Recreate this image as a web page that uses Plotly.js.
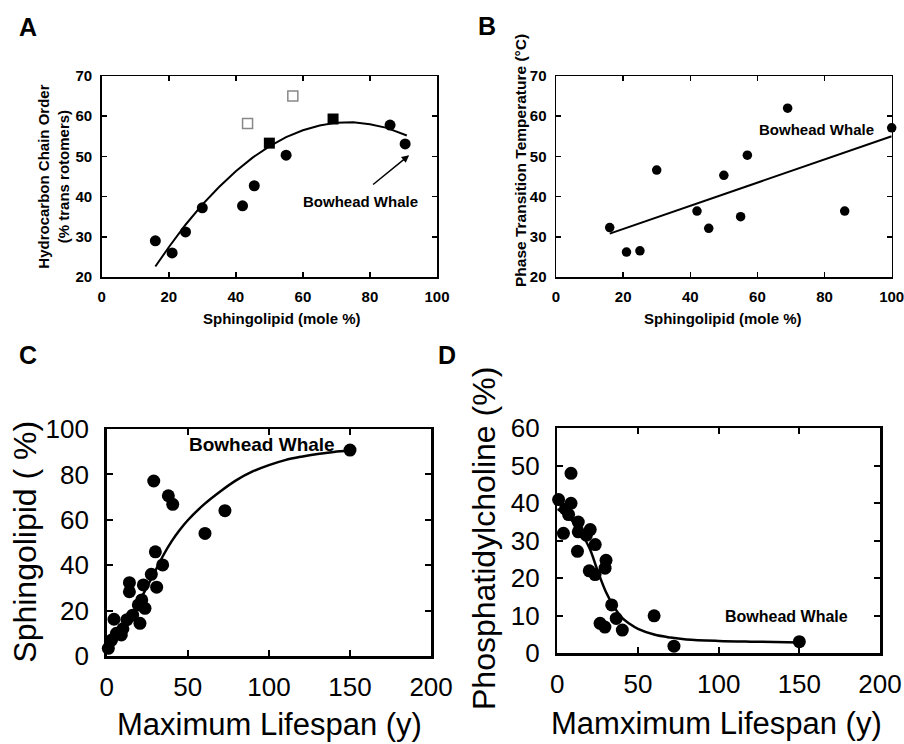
<!DOCTYPE html>
<html>
<head>
<meta charset="utf-8">
<script src="https://cdn.plot.ly/plotly-3.0.1.min.js"></script>
<style>html,body{margin:0;padding:0;background:#fff;}#chart{width:904px;height:744px;}</style>
</head>
<body>
<div id="chart"></div>
<script>
// ---------- Panel A ----------
const aCircX = [16, 21, 25, 30, 42, 45.5, 55, 86, 90.5];
const aCircY = [29, 26, 31.2, 37.2, 37.7, 42.7, 50.3, 57.8, 53.1];
const aSqX = [50, 69];
const aSqY = [53.3, 59.3];
const aOpenX = [43.5, 57];
const aOpenY = [58.2, 65];
const aFitX = [16, 20, 25, 30, 35, 40, 45, 50, 55, 60, 65, 70, 75, 80, 85, 91];
const aFitY = [22.6, 27.4, 33.0, 38.0, 42.4, 46.3, 49.7, 52.5, 54.8, 56.5, 57.7, 58.4, 58.5, 58.0, 57.1, 55.2];

// ---------- Panel B ----------
const bX = [16, 21, 25, 30, 42, 45.5, 50, 55, 57, 69, 86, 100];
const bY = [32.3, 26.2, 26.5, 46.6, 36.4, 32.1, 45.3, 35, 50.3, 62, 36.4, 57.1];
const bFitX = [16, 100];
const bFitY = [30.8, 55];

// ---------- Panel C ----------
const cX = [1, 4.5, 3, 6, 9, 10, 12.5, 14, 14, 16, 19.5, 20.5, 21.6, 23.6, 22.6, 27.5, 30.8, 30, 34.5, 29, 38, 40.7, 60.6, 72.9, 150];
const cY = [3.4, 16.2, 7, 10, 9.3, 12, 16, 32.3, 28.3, 18, 22.5, 14.4, 24.7, 21, 31.3, 36, 30.3, 45.9, 40.1, 77.1, 70.6, 66.8, 54, 64, 90.7];
const cFitX = [0, 10, 20, 30, 35, 40, 45, 50, 60, 70, 80, 90, 100, 110, 120, 130, 140, 150];
const cFitY = [4, 12.5, 24, 37.5, 44.5, 50.5, 55.5, 59.8, 66.8, 72.5, 77.5, 81.3, 84.1, 86.3, 87.8, 89, 89.9, 90.5];

// ---------- Panel D ----------
const dX = [0.8, 3.8, 5, 7, 8.5, 8.5, 13, 13, 12.5, 18, 20.4, 23.5, 19.8, 23.4, 30.2, 29.6, 33.7, 26.5, 29.5, 36.5, 40.3, 60, 72.3, 150];
const dY = [41, 32, 38.5, 37, 48, 40, 35, 32.4, 27.2, 31.5, 33, 29, 22, 21, 24.8, 22.7, 12.9, 8, 7, 9.3, 6.2, 10, 1.9, 3.1];
const dFitX = [0, 5, 10, 15, 20, 25, 30, 35, 40, 45, 50, 60, 70, 80, 100, 120, 150];
const dFitY = [38.5, 37, 35, 32, 28, 22, 16.5, 12.5, 9.5, 7.8, 6.5, 5, 4.2, 3.7, 3.3, 3.1, 2.9];

const FONT = 'Liberation Sans, Arial, Helvetica, sans-serif';
const W = 904, H = 744;
const px = v => v / W;
const py = v => 1 - v / H;

const traces = [
  {x: aFitX, y: aFitY, xaxis: 'x', yaxis: 'y', mode: 'lines', line: {color: '#000', width: 2}, cliponaxis: false},
  {x: aCircX, y: aCircY, xaxis: 'x', yaxis: 'y', mode: 'markers', marker: {symbol: 'circle', size: 11, color: '#000'}, cliponaxis: false},
  {x: aSqX, y: aSqY, xaxis: 'x', yaxis: 'y', mode: 'markers', marker: {symbol: 'square', size: 11, color: '#000'}, cliponaxis: false},
  {x: aOpenX, y: aOpenY, xaxis: 'x', yaxis: 'y', mode: 'markers', marker: {symbol: 'square', size: 10, color: '#fff', line: {color: '#888', width: 1.5}}, cliponaxis: false},

  {x: bFitX, y: bFitY, xaxis: 'x2', yaxis: 'y2', mode: 'lines', line: {color: '#000', width: 2}, cliponaxis: false},
  {x: bX, y: bY, xaxis: 'x2', yaxis: 'y2', mode: 'markers', marker: {symbol: 'circle', size: 9.5, color: '#000'}, cliponaxis: false},

  {x: cFitX, y: cFitY, xaxis: 'x3', yaxis: 'y3', mode: 'lines', line: {color: '#000', width: 2.5, shape: 'spline'}, cliponaxis: false},
  {x: cX, y: cY, xaxis: 'x3', yaxis: 'y3', mode: 'markers', marker: {symbol: 'circle', size: 13, color: '#000'}, cliponaxis: false},

  {x: dFitX, y: dFitY, xaxis: 'x4', yaxis: 'y4', mode: 'lines', line: {color: '#000', width: 2.5, shape: 'spline'}, cliponaxis: false},
  {x: dX, y: dY, xaxis: 'x4', yaxis: 'y4', mode: 'markers', marker: {symbol: 'circle', size: 13, color: '#000'}, cliponaxis: false}
];

function smallAxis(domain, range, dtick, anchor, standoff) {
  return {
    domain: domain, range: range, dtick: dtick, tick0: 0, anchor: anchor,
    showgrid: false, zeroline: false, showline: true, linecolor: '#000', linewidth: 1.5,
    mirror: 'ticks', ticks: 'inside', ticklen: 5, tickwidth: 1.5, tickcolor: '#000',
    tickfont: {family: FONT, size: 15, color: '#000', weight: 700},
    ticklabelstandoff: standoff, ticklabeloverflow: 'allow', fixedrange: true
  };
}
function bigAxis(domain, range, dtick, anchor, standoff) {
  return {
    domain: domain, range: range, dtick: dtick, tick0: 0, anchor: anchor,
    showgrid: false, zeroline: false, showline: true, linecolor: '#000', linewidth: 2.5,
    mirror: 'ticks', ticks: 'inside', ticklen: 6, tickwidth: 2, tickcolor: '#000',
    tickfont: {family: FONT, size: 26, color: '#000'},
    ticklabelstandoff: standoff, ticklabeloverflow: 'allow', fixedrange: true
  };
}

const ann = [];
function txt(text, x, y, size, bold, angle, xref, yref) {
  ann.push({text: text, x: x, y: y, xref: xref || 'paper', yref: yref || 'paper',
    xanchor: 'center', yanchor: 'middle', showarrow: false, textangle: angle || 0,
    font: {family: FONT, size: size, color: '#000', weight: bold ? 700 : 400}});
}
// panel letters
txt('A', px(28), py(27), 25, true);
txt('B', px(487), py(26), 25, true);
txt('C', px(28), py(355), 25, true);
txt('D', px(447), py(355), 25, true);
// axis titles
txt('Sphingolipid (mole %)', px(281.7), py(318), 15, true);
txt('Hydrocarbon Chain Order<br>(% trans rotomers)', px(54), py(176.7), 15, true, -90);
txt('Sphingolipid (mole %)', px(723.3), py(318), 15, true);
txt('Phase Transition Temperature (°C)', px(520), py(161), 15.5, true, -90);
txt('Maximum Lifespan (y)', px(269.2), py(724), 31, false);
txt('Sphingolipid ( %)', px(25), py(541.7), 32, false, -90);
txt('Mamximum Lifespan (y)', px(716.7), py(723), 31, false);
txt('Phosphatidylcholine (%)', px(484), py(539), 32, false, -90);
// in-plot labels
txt('Bowhead Whale', 77.3, 38.7, 15, true, 0, 'x', 'y');
txt('Bowhead Whale', 77.7, 56.6, 15, true, 0, 'x2', 'y2');
txt('Bowhead Whale', 95.6, 93, 19, true, 0, 'x3', 'y3');
txt('Bowhead Whale', 142.2, 9.8, 16, true, 0, 'x4', 'y4');
// arrow in A
ann.push({x: 91.7, y: 50.3, xref: 'x', yref: 'y', ax: 80.5, ay: 42.7, axref: 'x', ayref: 'y',
  text: '', showarrow: true, arrowhead: 2, arrowsize: 1, arrowwidth: 1.5, arrowcolor: '#000'});

const layout = {
  width: W, height: H,
  margin: {l: 0, r: 0, t: 0, b: 0},
  paper_bgcolor: '#fff', plot_bgcolor: '#fff',
  showlegend: false,
  font: {family: FONT, color: '#000'},
  xaxis: smallAxis([px(101.7), px(437)], [0, 100], 20, 'y', 5),
  yaxis: smallAxis([py(277), py(76)], [20, 70], 10, 'x', 5),
  xaxis2: smallAxis([px(556), px(891.7)], [0, 100], 20, 'y2', 5),
  yaxis2: smallAxis([py(277), py(76)], [20, 70], 10, 'x2', 5),
  xaxis3: bigAxis([px(106.7), px(431.1)], [0, 200], 50, 'y3', 6),
  yaxis3: bigAxis([py(656), py(429)], [0, 100], 20, 'x3', 10),
  xaxis4: bigAxis([px(557.3), px(880)], [0, 200], 50, 'y4', 6),
  yaxis4: bigAxis([py(653.3), py(428.3)], [0, 60], 10, 'x4', 10),
  annotations: ann
};

Plotly.newPlot('chart', traces, layout, {displayModeBar: false, staticPlot: true});
</script>
</body>
</html>
